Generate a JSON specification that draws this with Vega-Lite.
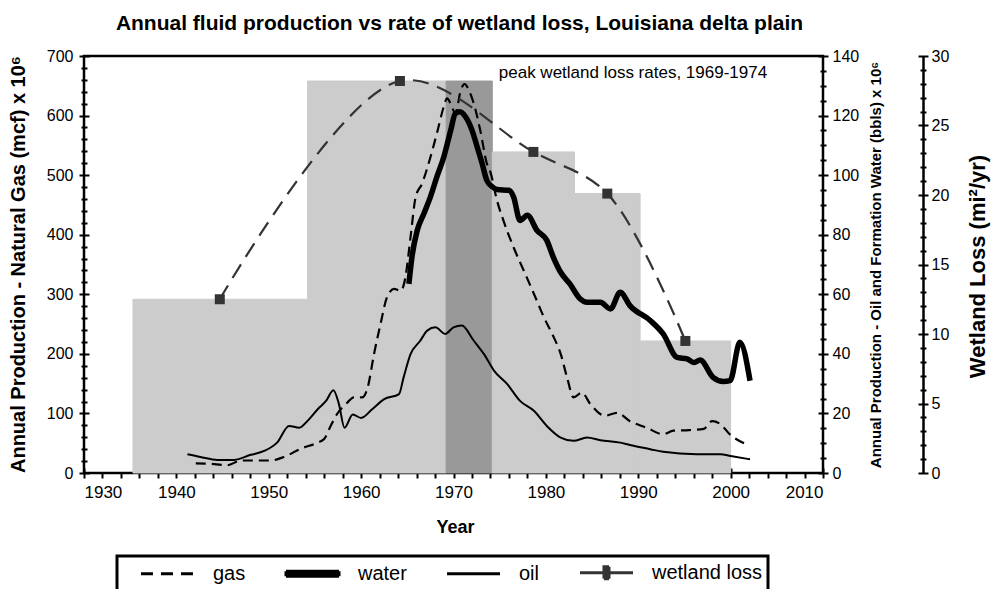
{
  "$schema": "https://vega.github.io/schema/vega-lite/v6.json",
  "width": 739,
  "height": 417,
  "autosize": {"type": "none"},
  "padding": {"left": 84, "top": 56, "right": 172, "bottom": 116},
  "background": "white",
  "config": {
    "font": "Liberation Sans",
    "view": {"stroke": "black", "strokeWidth": 2.5},
    "axis": {"labelColor": "black", "titleColor": "black", "tickColor": "black", "domainColor": "black", "grid": false, "labelFontSize": 16, "tickWidth": 2}
  },
  "title": {"text": "Annual fluid production vs rate of wetland loss, Louisiana delta plain", "fontSize": 21, "fontWeight": "bold", "anchor": "middle", "frame": "group", "offset": 14, "dx": 6, "color": "black"},
  "datasets": {
    "bars": [
      {"start": 1935.3, "end": 1954.2, "loss": 12.5, "peak": false},
      {"start": 1954.2, "end": 1969.2, "loss": 28.2, "peak": false},
      {"start": 1969.2, "end": 1974.2, "loss": 28.2, "peak": true},
      {"start": 1974.2, "end": 1983.1, "loss": 23.1, "peak": false},
      {"start": 1983.1, "end": 1990.2, "loss": 20.1, "peak": false},
      {"start": 1990.2, "end": 2000, "loss": 9.5, "peak": false}
    ],
    "gas": [
      {"series": "gas", "year": 1942.1, "value": 16},
      {"series": "gas", "year": 1944.1, "value": 15},
      {"series": "gas", "year": 1945.5, "value": 13},
      {"series": "gas", "year": 1947.0, "value": 21},
      {"series": "gas", "year": 1948.8, "value": 21},
      {"series": "gas", "year": 1950.2, "value": 21},
      {"series": "gas", "year": 1951.65, "value": 27},
      {"series": "gas", "year": 1953.5, "value": 41},
      {"series": "gas", "year": 1955.3, "value": 51},
      {"series": "gas", "year": 1956.0, "value": 57},
      {"series": "gas", "year": 1956.7, "value": 79},
      {"series": "gas", "year": 1957.4, "value": 99},
      {"series": "gas", "year": 1958.5, "value": 118},
      {"series": "gas", "year": 1959.2, "value": 127},
      {"series": "gas", "year": 1960.1, "value": 127},
      {"series": "gas", "year": 1960.7, "value": 143},
      {"series": "gas", "year": 1961.4, "value": 200},
      {"series": "gas", "year": 1962.1, "value": 250},
      {"series": "gas", "year": 1962.8, "value": 295},
      {"series": "gas", "year": 1963.55, "value": 309},
      {"series": "gas", "year": 1964.3, "value": 306},
      {"series": "gas", "year": 1964.8, "value": 329},
      {"series": "gas", "year": 1965.35, "value": 396},
      {"series": "gas", "year": 1965.9, "value": 463},
      {"series": "gas", "year": 1966.6, "value": 486},
      {"series": "gas", "year": 1967.5, "value": 530},
      {"series": "gas", "year": 1968.2, "value": 570},
      {"series": "gas", "year": 1968.95, "value": 615},
      {"series": "gas", "year": 1969.3, "value": 629},
      {"series": "gas", "year": 1969.7, "value": 620},
      {"series": "gas", "year": 1970.2, "value": 604},
      {"series": "gas", "year": 1970.8, "value": 643},
      {"series": "gas", "year": 1971.2, "value": 653},
      {"series": "gas", "year": 1971.65, "value": 643},
      {"series": "gas", "year": 1972.2, "value": 620},
      {"series": "gas", "year": 1972.9, "value": 575},
      {"series": "gas", "year": 1973.6, "value": 520},
      {"series": "gas", "year": 1974.0, "value": 505},
      {"series": "gas", "year": 1974.7, "value": 458},
      {"series": "gas", "year": 1975.4, "value": 424},
      {"series": "gas", "year": 1976.5, "value": 379},
      {"series": "gas", "year": 1977.6, "value": 340},
      {"series": "gas", "year": 1978.7, "value": 301},
      {"series": "gas", "year": 1979.8, "value": 261},
      {"series": "gas", "year": 1980.85, "value": 228},
      {"series": "gas", "year": 1981.6, "value": 200},
      {"series": "gas", "year": 1982.3, "value": 160},
      {"series": "gas", "year": 1983.0, "value": 127},
      {"series": "gas", "year": 1983.9, "value": 135},
      {"series": "gas", "year": 1984.8, "value": 116},
      {"series": "gas", "year": 1986.4, "value": 96},
      {"series": "gas", "year": 1987.7, "value": 101},
      {"series": "gas", "year": 1989.1, "value": 87},
      {"series": "gas", "year": 1990.9, "value": 76},
      {"series": "gas", "year": 1992.7, "value": 65},
      {"series": "gas", "year": 1993.8, "value": 71},
      {"series": "gas", "year": 1995.5, "value": 72},
      {"series": "gas", "year": 1997.1, "value": 74},
      {"series": "gas", "year": 1998.0, "value": 87},
      {"series": "gas", "year": 1998.9, "value": 82},
      {"series": "gas", "year": 1999.9, "value": 65},
      {"series": "gas", "year": 2001.6, "value": 49}
    ],
    "water": [
      {"series": "water", "year": 1965.17, "value": 63.5},
      {"series": "water", "year": 1965.5, "value": 72.5},
      {"series": "water", "year": 1966.07, "value": 81.4},
      {"series": "water", "year": 1966.8, "value": 87.1},
      {"series": "water", "year": 1967.5, "value": 92.7},
      {"series": "water", "year": 1968.2, "value": 99.4},
      {"series": "water", "year": 1968.95, "value": 106.1},
      {"series": "water", "year": 1969.7, "value": 115.1},
      {"series": "water", "year": 1970.2, "value": 120.7},
      {"series": "water", "year": 1970.7, "value": 121.3},
      {"series": "water", "year": 1971.3, "value": 119.6},
      {"series": "water", "year": 1972.0, "value": 115.1},
      {"series": "water", "year": 1972.56, "value": 109.5},
      {"series": "water", "year": 1973.1, "value": 103.9},
      {"series": "water", "year": 1973.6, "value": 98.3},
      {"series": "water", "year": 1974.2, "value": 96.1},
      {"series": "water", "year": 1974.7, "value": 95.2},
      {"series": "water", "year": 1976.0, "value": 94.9},
      {"series": "water", "year": 1976.5, "value": 92.7},
      {"series": "water", "year": 1977.2, "value": 84.8},
      {"series": "water", "year": 1978.0, "value": 86.5},
      {"series": "water", "year": 1979.05, "value": 81.4},
      {"series": "water", "year": 1980.1, "value": 78.1},
      {"series": "water", "year": 1980.8, "value": 72.5},
      {"series": "water", "year": 1981.6, "value": 67.4},
      {"series": "water", "year": 1982.6, "value": 63.5},
      {"series": "water", "year": 1983.7, "value": 58.5},
      {"series": "water", "year": 1984.45, "value": 57.3},
      {"series": "water", "year": 1985.9, "value": 57.3},
      {"series": "water", "year": 1987.0, "value": 55.1},
      {"series": "water", "year": 1988.05, "value": 60.7},
      {"series": "water", "year": 1989.1, "value": 56.2},
      {"series": "water", "year": 1991.3, "value": 51.2},
      {"series": "water", "year": 1992.7, "value": 46.7},
      {"series": "water", "year": 1994.2, "value": 38.8},
      {"series": "water", "year": 1995.3, "value": 38.3},
      {"series": "water", "year": 1996.0, "value": 37.1},
      {"series": "water", "year": 1996.7, "value": 37.9},
      {"series": "water", "year": 1998.1, "value": 32.1},
      {"series": "water", "year": 1999.2, "value": 30.7},
      {"series": "water", "year": 1999.95, "value": 31.0},
      {"series": "water", "year": 2001.0, "value": 43.9},
      {"series": "water", "year": 2002.1, "value": 31.0}
    ],
    "oil": [
      {"series": "oil", "year": 1941.2, "value": 6.3},
      {"series": "oil", "year": 1942.6, "value": 5.4},
      {"series": "oil", "year": 1944.45, "value": 4.4},
      {"series": "oil", "year": 1946.25, "value": 4.4},
      {"series": "oil", "year": 1948.05, "value": 6.1},
      {"series": "oil", "year": 1949.5, "value": 7.4},
      {"series": "oil", "year": 1950.9, "value": 10.2},
      {"series": "oil", "year": 1952.2, "value": 15.8},
      {"series": "oil", "year": 1953.3, "value": 15.2},
      {"series": "oil", "year": 1954.2, "value": 17.5},
      {"series": "oil", "year": 1955.3, "value": 21.4},
      {"series": "oil", "year": 1956.2, "value": 24.2},
      {"series": "oil", "year": 1957.0, "value": 27.8},
      {"series": "oil", "year": 1957.6, "value": 23.1},
      {"series": "oil", "year": 1958.2, "value": 15.2},
      {"series": "oil", "year": 1959.1, "value": 19.6},
      {"series": "oil", "year": 1960.0, "value": 18.5},
      {"series": "oil", "year": 1961.2, "value": 21.4},
      {"series": "oil", "year": 1962.5, "value": 24.8},
      {"series": "oil", "year": 1964.1, "value": 26.5},
      {"series": "oil", "year": 1964.6, "value": 32.1},
      {"series": "oil", "year": 1965.35, "value": 39.9},
      {"series": "oil", "year": 1966.4, "value": 44.4},
      {"series": "oil", "year": 1967.15, "value": 47.8},
      {"series": "oil", "year": 1968.05, "value": 48.9},
      {"series": "oil", "year": 1969.1, "value": 46.7},
      {"series": "oil", "year": 1970.0, "value": 48.9},
      {"series": "oil", "year": 1970.9, "value": 49.5},
      {"series": "oil", "year": 1972.2, "value": 44.4},
      {"series": "oil", "year": 1973.3, "value": 39.9},
      {"series": "oil", "year": 1974.4, "value": 34.3},
      {"series": "oil", "year": 1975.8, "value": 29.9},
      {"series": "oil", "year": 1977.2, "value": 24.2},
      {"series": "oil", "year": 1978.7, "value": 20.9},
      {"series": "oil", "year": 1980.1, "value": 15.8},
      {"series": "oil", "year": 1981.6, "value": 11.9},
      {"series": "oil", "year": 1983.0, "value": 10.8},
      {"series": "oil", "year": 1984.45, "value": 11.9},
      {"series": "oil", "year": 1985.9, "value": 11.0},
      {"series": "oil", "year": 1988.05, "value": 10.2},
      {"series": "oil", "year": 1989.1, "value": 9.4},
      {"series": "oil", "year": 1991.3, "value": 8.0},
      {"series": "oil", "year": 1992.7, "value": 7.1},
      {"series": "oil", "year": 1996.3, "value": 6.3},
      {"series": "oil", "year": 1998.9, "value": 6.3},
      {"series": "oil", "year": 2000.0, "value": 5.7},
      {"series": "oil", "year": 2002.1, "value": 4.6}
    ],
    "wetland": [
      {"series": "wetland loss", "year": 1944.7, "value": 12.5},
      {"series": "wetland loss", "year": 1964.2, "value": 28.2},
      {"series": "wetland loss", "year": 1978.65, "value": 23.1},
      {"series": "wetland loss", "year": 1986.65, "value": 20.1},
      {"series": "wetland loss", "year": 1995.1, "value": 9.5}
    ],
    "note": [
      {"year": 1974.9, "value": 28.78, "label": "peak wetland loss rates, 1969-1974"}
    ]
  },
  "resolve": {"scale": {"y": "independent"}, "axis": {"x": "independent", "y": "independent"}},
  "layer": [
    {
      "data": {"name": "bars"},
      "mark": {"type": "rect", "strokeWidth": 1},
      "encoding": {
        "x": {"field": "start", "type": "quantitative", "scale": {"domain": [1930, 2010], "nice": false, "zero": false},
          "axis": {"orient": "bottom", "offset": -5, "values": [1930, 1940, 1950, 1960, 1970, 1980, 1990, 2000, 2010], "format": "d", "domain": false, "tickSize": 10, "labelPadding": 6, "labelFontSize": 17, "title": "Year", "titleFontSize": 18, "titleFontWeight": "bold", "titleX": 371, "titleY": 59, "titleBaseline": "middle", "titleAlign": "center"}},
        "x2": {"field": "end"},
        "y": {"field": "loss", "type": "quantitative", "scale": {"domain": [0, 30], "nice": false},
          "axis": {"orient": "right", "offset": 95, "values": [0, 5, 10, 15, 20, 25, 30], "domain": false, "tickSize": 10, "labelPadding": 3, "title": "Wetland Loss (mi²/yr)", "titleFontSize": 22, "titleFontWeight": "bold", "titleAngle": 270, "titleX": 59, "titleY": 210, "titleBaseline": "middle", "titleAlign": "center"}},
        "y2": {"datum": 0},
        "color": {"condition": {"test": "datum.peak", "value": "#999999"}, "value": "#cccccc"},
        "stroke": {"condition": {"test": "datum.peak", "value": "#999999"}, "value": "#cccccc"}
      }
    },
    {
      "data": {"name": "gas"},
      "mark": {"type": "point", "opacity": 0},
      "encoding": {
        "x": {"field": "year", "type": "quantitative", "scale": {"domain": [1930, 2010], "nice": false, "zero": false}, "axis": null},
        "y": {"field": "value", "type": "quantitative", "scale": {"domain": [0, 700], "nice": false},
          "axis": {"orient": "left", "offset": -3, "values": [20, 40, 60, 80, 120, 140, 160, 180, 220, 240, 260, 280, 320, 340, 360, 380, 420, 440, 460, 480, 520, 540, 560, 580, 620, 640, 660, 680], "domain": false, "labels": false, "tickSize": 6, "title": null}}
      }
    },
    {
      "data": {"name": "oil"},
      "mark": {"type": "line", "interpolate": "monotone", "strokeWidth": 2},
      "encoding": {
        "x": {"field": "year", "type": "quantitative", "scale": {"domain": [1930, 2010], "nice": false, "zero": false},
          "axis": {"orient": "bottom", "offset": 0, "values": [1932, 1934, 1936, 1938, 1942, 1944, 1946, 1948, 1952, 1954, 1956, 1958, 1962, 1964, 1966, 1968, 1972, 1974, 1976, 1978, 1982, 1984, 1986, 1988, 1992, 1994, 1996, 1998, 2002, 2004, 2006, 2008], "domain": false, "labels": false, "tickSize": 5, "title": null}},
        "y": {"field": "value", "type": "quantitative", "scale": {"domain": [0, 140], "nice": false},
          "axis": {"orient": "right", "offset": -3, "values": [5, 10, 15, 25, 30, 35, 45, 50, 55, 65, 70, 75, 85, 90, 95, 105, 110, 115, 125, 130, 135], "domain": false, "labels": false, "tickSize": 6, "title": null}},
        "color": {"field": "series", "type": "nominal", "scale": {"domain": ["gas", "water", "oil", "wetland loss"], "range": ["black", "black", "black", "#333333"]},
          "legend": {
            "orient": "none", "legendX": 33, "legendY": 500, "direction": "horizontal",
            "title": "\u00a0", "titleOrient": "bottom", "titleFontSize": 16, "titlePadding": 10,
            "symbolSize": 400, "symbolStrokeWidth": 3, "labelFontSize": 20, "labelColor": "black", "labelOffset": 34, "symbolOffset": 34, "columnPadding": 21, "labelLimit": 400,
            "labelExpr": "datum.label == 'wetland loss' ? 'wetland loss\u00a0\u00a0' : datum.label",
            "padding": 5, "strokeColor": "black", "fillColor": "white",
            "encode": {
              "legend": {"update": {"strokeWidth": {"value": 3}}},
              "symbols": {
                "update": {
                  "shape": {"signal": "datum.value === 'wetland loss' ? 'M-2.65,0H2.65M-0.25,-0.6H0.25V0.6H-0.25Z' : (datum.value === 'water' ? 'M-2.65,-0.25H2.65V0.25H-2.65Z' : 'M-2.65,0H2.65')"},
                  "fill": {"signal": "datum.value === 'wetland loss' ? '#333333' : (datum.value === 'water' ? 'black' : 'transparent')"},
                  "stroke": {"signal": "datum.value === 'wetland loss' ? '#555555' : 'black'"},
                  "strokeWidth": {"value": 3},
                  "strokeDash": {"signal": "datum.value === 'gas' ? [12, 8] : [1, 0]"},
                  "size": {"value": 400},
                  "opacity": {"value": 1}
                }
              }
            }
          }}
      }
    },
    {
      "data": {"name": "gas"},
      "mark": {"type": "line", "interpolate": "monotone", "strokeWidth": 2.2, "strokeDash": [10, 6]},
      "encoding": {
        "x": {"field": "year", "type": "quantitative", "scale": {"domain": [1930, 2010], "nice": false, "zero": false}, "axis": null},
        "y": {"field": "value", "type": "quantitative", "scale": {"domain": [0, 700], "nice": false},
          "axis": {"orient": "left", "offset": -5, "values": [0, 100, 200, 300, 400, 500, 600, 700], "domain": false, "tickSize": 10, "labelPadding": 6, "title": "Annual Production - Natural Gas (mcf) x 10⁶", "titleFontSize": 20, "titleFontWeight": "bold", "titleX": -71, "titleY": 208, "titleBaseline": "middle", "titleAlign": "center", "titleAngle": 270}},
        "color": {"field": "series", "type": "nominal", "scale": {"domain": ["gas", "water", "oil", "wetland loss"], "range": ["black", "black", "black", "#333333"]}}
      }
    },
    {
      "data": {"name": "water"},
      "mark": {"type": "line", "interpolate": "monotone", "strokeWidth": 5.5},
      "encoding": {
        "x": {"field": "year", "type": "quantitative", "scale": {"domain": [1930, 2010], "nice": false, "zero": false}, "axis": null},
        "y": {"field": "value", "type": "quantitative", "scale": {"domain": [0, 140], "nice": false},
          "axis": {"orient": "right", "offset": -5, "values": [0, 20, 40, 60, 80, 100, 120, 140], "domain": false, "tickSize": 10, "labelPadding": 4, "title": "Annual Production - Oil and Formation Water (bbls) x 10⁶", "titleFontSize": 15, "titleFontWeight": "bold", "titleAngle": 270, "titleBaseline": "top", "titlePadding": 10}},
        "color": {"field": "series", "type": "nominal", "scale": {"domain": ["gas", "water", "oil", "wetland loss"], "range": ["black", "black", "black", "#333333"]}}
      }
    },
    {
      "data": {"name": "wetland"},
      "mark": {"type": "line", "interpolate": "catmull-rom", "strokeWidth": 2.2, "strokeDash": [16, 9]},
      "encoding": {
        "x": {"field": "year", "type": "quantitative", "scale": {"domain": [1930, 2010], "nice": false, "zero": false}, "axis": null},
        "y": {"field": "value", "type": "quantitative", "scale": {"domain": [0, 30], "nice": false},
          "axis": {"orient": "right", "offset": 97, "values": [1, 2, 3, 4, 6, 7, 8, 9, 11, 12, 13, 14, 16, 17, 18, 19, 21, 22, 23, 24, 26, 27, 28, 29], "domain": false, "labels": false, "tickSize": 6, "title": null}},
        "color": {"field": "series", "type": "nominal", "scale": {"domain": ["gas", "water", "oil", "wetland loss"], "range": ["black", "black", "black", "#333333"]}}
      }
    },
    {
      "data": {"name": "wetland"},
      "mark": {"type": "point", "shape": "square", "filled": true, "size": 100, "opacity": 1},
      "encoding": {
        "x": {"field": "year", "type": "quantitative", "scale": {"domain": [1930, 2010], "nice": false, "zero": false}, "axis": null},
        "y": {"field": "value", "type": "quantitative", "scale": {"domain": [0, 30], "nice": false},
          "axis": {"orient": "right", "offset": 100, "domain": true, "domainWidth": 2.5, "ticks": false, "labels": false, "grid": false, "title": null}},
        "color": {"field": "series", "type": "nominal", "scale": {"domain": ["gas", "water", "oil", "wetland loss"], "range": ["black", "black", "black", "#333333"]}}
      }
    },
    {
      "data": {"name": "note"},
      "mark": {"type": "text", "align": "left", "baseline": "middle", "fontSize": 17, "color": "black"},
      "encoding": {
        "x": {"field": "year", "type": "quantitative", "scale": {"domain": [1930, 2010], "nice": false, "zero": false}, "axis": null},
        "y": {"field": "value", "type": "quantitative", "scale": {"domain": [0, 30], "nice": false}, "axis": null},
        "text": {"field": "label"}
      }
    }
  ]
}
